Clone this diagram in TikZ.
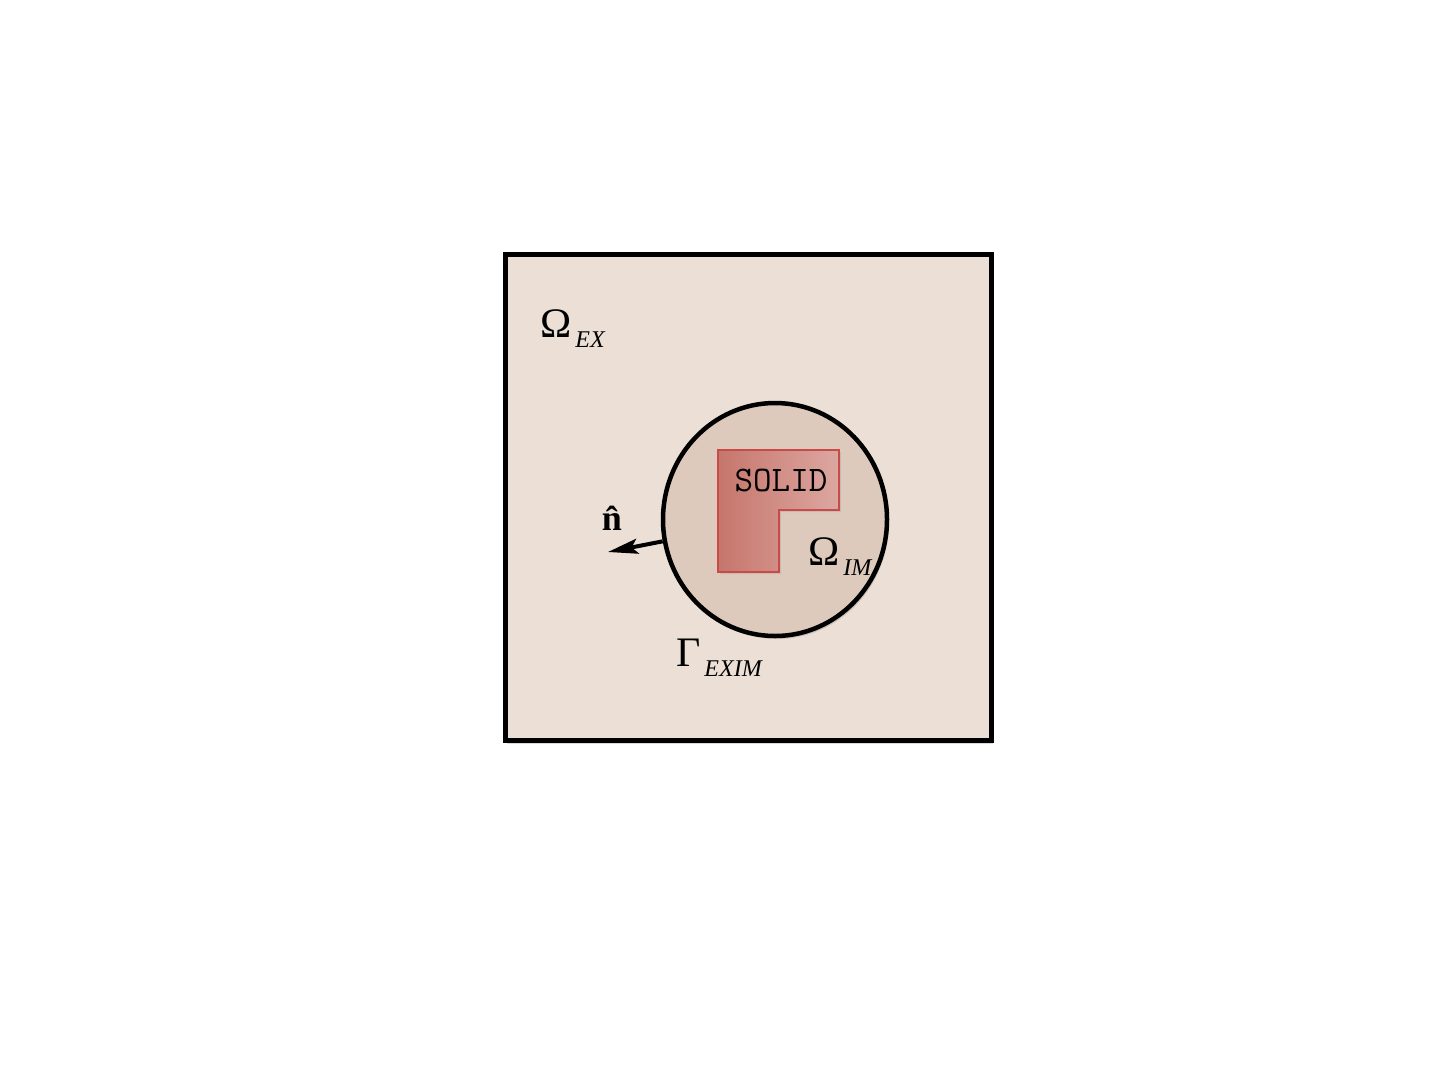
\documentclass[tikz,border=0pt]{standalone}
\usepackage{fontspec}
\setmainfont{Liberation Serif}
\usepackage{tikz}
\usetikzlibrary{shapes.geometric, arrows.meta, positioning, shadows}
\definecolor{exfill}{HTML}{EBDFD6}
\definecolor{imfill}{HTML}{DDCABC}
\definecolor{solidedge}{HTML}{C84B49}
\definecolor{solidleft}{HTML}{C6766C}
\definecolor{solidright}{HTML}{DCA7A1}
\newcommand{\domlabel}[3]{{\fontsize{#1}{#1}\selectfont #2}\hspace{4pt}\raisebox{-10pt}{\fontsize{24}{24}\selectfont\itshape #3}}
\tikzset{
  % Domain outlines
  softshadow/.style={drop shadow={shadow xshift=2pt, shadow yshift=-3pt, opacity=0.25, fill=black!60}},
  domain/.style={draw=black, line width=#1, inner sep=0pt, softshadow},
  domain/.default={5pt},
  % Labels
  domtext/.style={inner sep=0pt, anchor=base west},
  % Normal vector
  normalarrow/.style={-{Stealth[length=30pt, width=15pt, inset=6pt]}, line width=4pt},
}
\begin{document}
\begin{tikzpicture}[x=1pt, y=-1pt]
  \useasboundingbox (0,0) rectangle (1440,1080);

  % Outer (explicit) domain
  \node[domain, rectangle, fill=exfill, minimum width=486pt, minimum height=486pt] (ex) at (748,497.5) {};

  % Inner (implicit) domain
  \node[domain=4.5pt, ellipse, fill=imfill, minimum width=224pt, minimum height=233pt] (im) at (775,519.5) {};

  % Solid body
  \coordinate (solidnw) at (718,450);
  \draw[solidedge, line width=1.5pt, left color=solidleft, right color=solidright,
        drop shadow={shadow xshift=2pt, shadow yshift=-2pt, opacity=0.2}]
    (solidnw) -- (839,450) -- (839,510) -- (779,510) -- (779,572) -- (718,572) -- cycle;
  \node[font=\ttfamily\fontsize{36}{36}\selectfont, inner sep=0pt] (solid) at (781,480) {SOLID};

  % Labels
  \node[domtext] (omegaex) at (540,337) {\domlabel{42}{Ω}{EX}};
  \node[domtext] (omegaim) at (808,565) {\domlabel{42}{Ω}{IM}};
  \node[domtext] (gammaexim) at (676,666) {\domlabel{42}{Γ}{EXIM}};

  % Outward normal
  \coordinate (ntip) at (608,552);
  \draw[normalarrow] (im.191) -- (ntip);
  \node[font=\bfseries\fontsize{36}{36}\selectfont, inner sep=0pt, anchor=base] (nhat) at (612,530) {\^{n}};
\end{tikzpicture}
\end{document}
